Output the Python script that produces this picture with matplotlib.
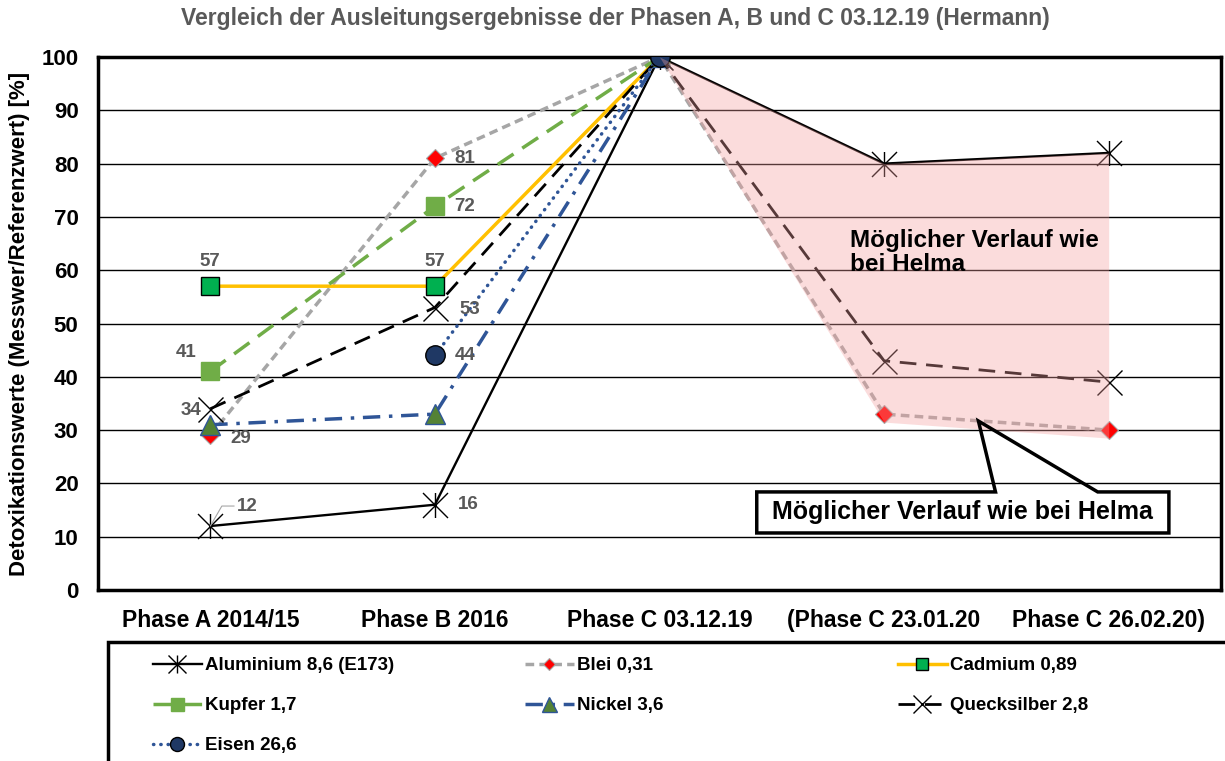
import numpy as np
import matplotlib.pyplot as plt
import matplotlib as mpl
from matplotlib.path import Path
from matplotlib.patches import Polygon, Rectangle

mpl.rcParams.update({
    "font.family": ["Liberation Sans", "DejaVu Sans"],
    "font.weight": "bold",
})

categories = ["Phase A 2014/15", "Phase B 2016", "Phase C 03.12.19",
              "(Phase C 23.01.20", "Phase C 26.02.20)"]
aluminium = [12, 16, 100, 80, 82]
blei = [29, 81, 100, 33, 30]
cadmium = [57, 57, 100, np.nan, np.nan]
kupfer = [41, 72, 100, np.nan, np.nan]
nickel = [31, 33, 100, np.nan, np.nan]
quecksilber = [34, 53, 100, 43, 39]
eisen = [np.nan, 44, 100, np.nan, np.nan]
# lower edge of the shaded "Helma" area (phases C, D, E)
helma_lower = [100, 31.5, 28.5]

# data labels: (series values, index, text, offset in pixels)
labels = [
    (aluminium, 0, "12", (37, 20)),
    (aluminium, 1, "16", (33, 0)),
    (quecksilber, 0, "34", (-19, -2)),
    (blei, 0, "29", (30, -3)),
    (kupfer, 0, "41", (-24, 19)),
    (cadmium, 0, "57", (0, 25)),
    (cadmium, 1, "57", (0, 25)),
    (kupfer, 1, "72", (30, 0)),
    (blei, 1, "81", (30, 0)),
    (quecksilber, 1, "53", (35, -2)),
    (eisen, 1, "44", (30, 0)),
]

# asterisk marker: X plus vertical bar
star = Path([(-1, -1), (1, 1), (-1, 1), (1, -1), (0, -1), (0, 1)],
            [Path.MOVETO, Path.LINETO, Path.MOVETO, Path.LINETO, Path.MOVETO, Path.LINETO])

W, H = 1225, 761
fig = plt.figure(figsize=(W / 100, H / 100), dpi=100)
ax = fig.add_axes([98 / W, 1 - 590 / H, (1221 - 98) / W, (590 - 57) / H])
x = np.arange(len(categories))

l_al, = ax.plot(x, aluminium, color="black", lw=1.7, marker=star, ms=18,
                mec="black", mew=1, label="Aluminium 8,6 (E173)", zorder=3)
l_bl, = ax.plot(x, blei, color="#A6A6A6", lw=2.5, dashes=(2.5, 1.5), marker="D", ms=9,
                mfc="#FF0000", mec="#A6A6A6", mew=0.8, label="Blei 0,31", zorder=3)
l_ca, = ax.plot(x, cadmium, color="#FFC000", lw=2.5, marker="s", ms=12.5,
                mfc="#00B050", mec="black", mew=1, label="Cadmium 0,89", zorder=3)
l_ku, = ax.plot(x, kupfer, color="#70AD47", lw=2.5, dashes=(5.5, 3), marker="s", ms=13,
                mfc="#70AD47", mec="#70AD47", label="Kupfer 1,7", zorder=3)
l_ni, = ax.plot(x, nickel, color="#2F5597", lw=2.5, dashes=(5, 2.5, 1, 2.5), marker="^", ms=15,
                mfc="#548235", mec="#2F5597", mew=1, label="Nickel 3,6", zorder=3)
l_qu, = ax.plot(x, quecksilber, color="black", lw=2, dashes=(6, 3.5), marker="x", ms=18,
                mec="black", mew=1, label="Quecksilber 2,8", zorder=3)
l_ei, = ax.plot(x, eisen, color="#2F5597", lw=2.5, dashes=(0.1, 2), dash_capstyle="round",
                marker="o", ms=14, mfc="#1F3864", mec="black", mew=1,
                label="Eisen 26,6", zorder=3)

# shaded possible course
ax.fill_between(x[2:], aluminium[2:], helma_lower, color="#F4A0A0", alpha=0.36,
                lw=0, zorder=4)
ax.text(2.85, 63.3, "Möglicher Verlauf wie\nbei Helma", fontsize=17.5, fontweight="bold",
        ha="left", va="center", linespacing=1.05, zorder=6)

# callout
call = Polygon([(2.433, 18.4), (3.496, 18.4), (3.42, 31.7), (3.951, 18.4),
                (4.268, 18.4), (4.268, 10.7), (2.433, 10.7)], closed=True,
               facecolor="none", edgecolor="black", lw=2.5, zorder=6)
ax.add_patch(call)
ax.add_patch(Rectangle((2.433, 10.7), 4.268 - 2.433, 18.4 - 10.7, facecolor="white",
                       edgecolor="none", zorder=5))
ax.text((2.433 + 4.268) / 2, 14.55, "Möglicher Verlauf wie bei Helma", fontsize=18,
        fontweight="bold", ha="center", va="center", zorder=7)

for vals, i, txt, off in labels:
    kw = {}
    if txt == "12":
        kw = dict(arrowprops=dict(arrowstyle="-", color="#A6A6A6", lw=0.8,
                                  shrinkA=0, shrinkB=0, relpos=(0, 0.5),
                                  connectionstyle="angle,angleA=0,angleB=60,rad=0"))
    ax.annotate(txt, (x[i], vals[i]), xytext=off, textcoords="offset pixels",
                ha="center", va="center", fontsize=13.5, fontweight="bold",
                color="#595959", zorder=7, **kw)

ax.set_xlim(-0.5, 4.5)
ax.set_ylim(0, 100)
ax.set_yticks(np.arange(0, 101, 10))
ax.set_xticks(x)
ax.set_xticklabels(categories)
ax.tick_params(length=0, labelsize=16)
ax.tick_params(axis="x", labelsize=16.5)
ax.tick_params(axis="y", pad=14)
ax.tick_params(axis="x", pad=14)
ax.grid(axis="y", color="black", lw=1)
ax.set_axisbelow(True)
for s in ax.spines.values():
    s.set_linewidth(2.5)
ax.set_ylabel("Detoxikationswerte (Messwer/Referenzwert) [%]", fontsize=16,
              fontweight="bold", labelpad=8)

fig.text(615 / W, 1 - 18 / H,
         "Vergleich der Ausleitungsergebnisse der Phasen A, B und C 03.12.19 (Hermann)",
         ha="center", va="center", fontsize=16.5, fontweight="bold", color="#595959")

# legend: three equal-width columns
fig.patches.append(Rectangle((108 / W, -0.1), 1.2, 0.1 + (761 - 642) / H,
                             transform=fig.transFigure, fill=False, lw=2.5,
                             edgecolor="black"))
columns = [[l_al, l_ku, l_ei], [l_bl, l_ni], [l_ca, l_qu]]
col_x = [153, 525, 898]
for hs, cx in zip(columns, col_x):
    fig.legend(handles=hs, labels=[h.get_label() for h in hs], ncol=1,
               loc="upper left", bbox_to_anchor=(cx / W, 1 - 657 / H), frameon=False,
               fontsize=13.5, borderpad=0, borderaxespad=0, handlelength=2.6,
               handletextpad=0.15, labelspacing=1.22, markerscale=0.72)

plt.savefig("out.png", dpi=100)
